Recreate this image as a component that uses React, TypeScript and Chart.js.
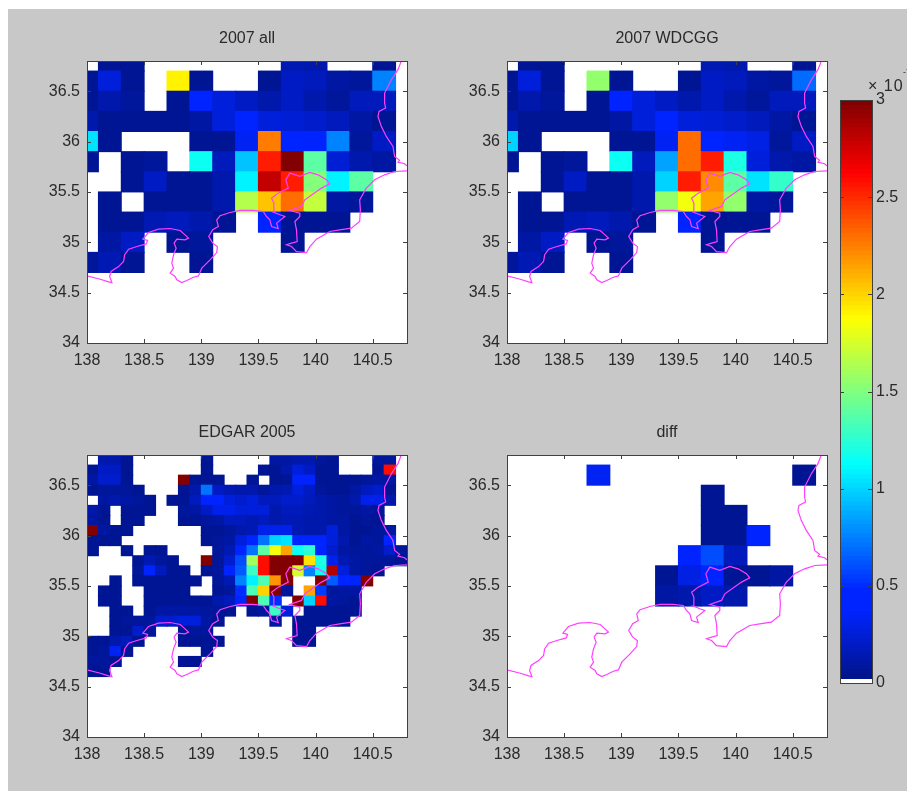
import React, { useEffect, useRef } from "react";
import { Chart, registerables } from "chart.js";

Chart.register(...registerables);

const _ = null;

const coarseLons = [138.0, 138.2, 138.4, 138.6, 138.8, 139.0, 139.2, 139.4, 139.6, 139.8, 140.0, 140.2, 140.4, 140.6];
const coarseLats = [36.8, 36.6, 36.4, 36.2, 36.0, 35.8, 35.6, 35.4, 35.2, 35.0, 34.8];
const fineLons = [138.05, 138.15, 138.25, 138.35, 138.45, 138.55, 138.65, 138.75, 138.85, 138.95, 139.05, 139.15, 139.25, 139.35, 139.45, 139.55, 139.65, 139.75, 139.85, 139.95, 140.05, 140.15, 140.25, 140.35, 140.45, 140.55, 140.65, 140.75];
const fineLats = [36.75, 36.65, 36.55, 36.45, 36.35, 36.25, 36.15, 36.05, 35.95, 35.85, 35.75, 35.65, 35.55, 35.45, 35.35, 35.25, 35.15, 35.05, 34.95, 34.85, 34.75, 34.65];

const all2007 = [
  [_, .07, .07, _, _, _, _, _, _, .15, .12, _, _, .07],
  [.06, .28, .06, _, 1.9, .05, _, _, .06, .2, .18, .1, .08, .75],
  [.06, .12, .08, _, .06, .45, .28, .2, .12, .2, .13, .08, .18, .18],
  [.14, .06, .06, .06, .06, .1, .28, .38, .26, .24, .22, .18, .1, .07],
  [1.05, .06, _, _, _, .06, .07, .33, 2.25, .47, .38, .75, .08, .2],
  [.05, _, .07, .09, _, 1.15, .18, .95, 2.55, 3, 1.4, .24, .13, .1],
  [_, _, .07, .2, .06, .06, .13, 1.1, 2.8, 2.55, 1.5, 1.1, 1.4, _],
  [_, .06, _, .06, .06, .06, .13, 1.65, 2.05, 2.3, 1.7, .1, .09, _],
  [_, .06, .06, .15, .17, .13, .07, _, .4, .06, .06, .06, _, _],
  [_, .1, .2, _, .06, .09, _, _, _, .06, _, _, _, _],
  [.09, .15, .06, _, _, .06, _, _, _, _, _, _, _, _],
];

const wdcgg2007 = [
  [_, .07, .07, _, _, _, _, _, _, .15, .12, _, _, .07],
  [.06, .28, .06, _, 1.55, .05, _, _, .06, .2, .18, .1, .08, .7],
  [.06, .12, .08, _, .06, .45, .28, .2, .12, .2, .13, .08, .18, .18],
  [.14, .06, .06, .06, .06, .1, .28, .38, .26, .24, .22, .18, .1, .07],
  [1.0, .06, _, _, _, .06, .07, .33, 2.3, .45, .35, .3, .08, .2],
  [.05, _, .07, .09, _, 1.17, .18, .85, 2.3, 2.55, 1.2, .28, .13, .1],
  [_, _, .07, .2, .06, .06, .13, 1.0, 2.55, 2.22, 1.4, 1.05, 1.28, _],
  [_, .06, _, .06, .06, .06, .13, 1.55, 1.85, 2.15, 1.55, .1, .09, _],
  [_, .06, .06, .15, .17, .13, .07, _, .4, .06, .06, .06, _, _],
  [_, .1, .2, _, .06, .09, _, _, _, .06, _, _, _, _],
  [.09, .15, .06, _, _, .06, _, _, _, _, _, _, _, _],
];

const edgar2005 = [
  [_, .12, .12, .07, _, _, _, _, _, _, .07, _, _, _, _, _, .1, .1, .12, .12, .08, .07, _, _, _, .08, .08, _],
  [.07, .2, .2, .07, _, _, _, _, _, _, .06, _, _, _, _, .06, .06, .12, .28, .2, .07, .07, _, _, _, .07, 2.6, _],
  [.1, .22, .22, .07, _, _, _, _, 3, .06, .06, .06, _, _, .06, _, .06, .06, .42, .42, .07, .06, .06, .06, .08, .1, .1, _],
  [.06, .09, .09, .09, .06, _, _, _, .06, .12, .72, .2, .16, .12, .14, .09, .12, .16, .26, .2, .09, .07, .07, .1, .18, .22, .07, _],
  [_, .1, .14, .1, .08, .06, _, .06, .06, .18, .45, .48, .26, .22, .26, .18, .18, .22, .22, .18, .13, .1, .08, .14, .32, .32, .12, _],
  [.14, .06, _, .06, .06, .06, _, _, .08, .1, .2, .32, .32, .26, .26, .28, .13, .18, .18, .16, .13, .1, .08, .08, .1, .08, _, _],
  [.1, .06, _, .06, .06, _, _, _, .06, .06, .08, .1, .18, .18, .16, .18, .14, .16, .16, .13, .13, .1, .1, .07, .08, .07, _, _],
  [3, .1, .06, .06, _, _, _, _, _, _, .06, .06, .08, .14, .16, .32, .32, .32, .16, .14, .12, .26, .1, .07, .07, .08, .1, _],
  [.06, .06, .06, _, _, _, _, _, _, _, .06, .08, .1, .28, .47, .72, 1.0, 1.05, .38, .38, .38, .26, .13, .07, .1, .08, .47, _],
  [.06, _, _, .06, _, .06, .06, _, _, _, _, .08, .16, .43, .72, 1.4, 1.85, 2.15, 1.15, 1.25, .43, .22, .1, .08, .08, .1, .22, .08],
  [_, _, _, _, .06, .16, .08, .06, _, _, 3, .08, .22, .6, 1.6, 2.6, 3, 3, 3, 1.95, 1.2, .32, .15, .1, .08, .08, .08, .07],
  [_, _, _, _, .08, .43, .18, .06, .06, _, .06, .08, .38, .65, 1.3, 2.6, 3, 3, 1.75, .75, 1.15, 2.85, .28, .1, .08, .07, _, _],
  [_, _, .06, _, .06, .06, .06, .06, .06, .06, _, .08, .16, .75, 1.1, 1.35, 2.2, 3, _, _, 3, .65, .43, .43, 3, _, _, _],
  [_, .06, .06, _, _, .06, .06, .06, .06, _, _, .06, .08, .5, 1.35, 2.0, 3, .08, _, 2.15, .55, .08, .1, .1, _, _, _, _],
  [_, .06, .06, _, _, .06, .06, .06, .06, .06, .06, .14, .18, .43, 3, 1.35, .5, _, 3, 1.0, 2.6, .1, .08, .06, _, _, _, _],
  [_, _, .06, .06, _, .06, .1, .1, .1, .1, .08, .08, .06, _, .06, .08, 1.3, .28, _, .06, .06, .06, .06, .06, _, _, _, _],
  [_, _, .06, .08, .08, .08, .22, .22, .28, .28, .1, .06, _, _, _, _, .1, _, .06, .06, .06, .06, .06, _, _, _, _, _],
  [_, _, .06, .06, .22, .08, _, _, .06, .09, .09, _, _, _, _, _, _, _, .06, .06, _, _, _, _, _, _, _, _],
  [.06, .06, .13, .18, .06, _, _, _, .06, .06, .06, .06, _, _, _, _, _, _, .06, .06, _, _, _, _, _, _, _, _],
  [.07, .08, .33, .06, _, _, _, _, _, _, .06, _, _, _, _, _, _, _, _, _, _, _, _, _, _, _, _, _],
  [.09, .09, .06, _, _, _, _, _, .06, .06, _, _, _, _, _, _, _, _, _, _, _, _, _, _, _, _, _, _],
  [.06, .06, _, _, _, _, _, _, _, _, _, _, _, _, _, _, _, _, _, _, _, _, _, _, _, _, _, _],
];

const diff = [
  [_, _, _, _, _, _, _, _, _, _, _, _, _, _],
  [_, _, _, _, .35, _, _, _, _, _, _, _, _, .06],
  [_, _, _, _, _, _, _, _, _, .06, _, _, _, _],
  [_, _, _, _, _, _, _, _, _, .06, .06, _, _, _],
  [_, _, _, _, _, _, _, _, _, .06, .06, .45, _, _],
  [_, _, _, _, _, _, _, _, .45, .6, .18, _, _, _],
  [_, _, _, _, _, _, _, .05, .3, .42, .07, .06, .1, _],
  [_, _, _, _, _, _, _, .1, .13, .2, .13, _, _, _],
  [_, _, _, _, _, _, _, _, _, _, _, _, _, _],
  [_, _, _, _, _, _, _, _, _, _, _, _, _, _],
  [_, _, _, _, _, _, _, _, _, _, _, _, _, _],
];

const southCoastLon = [138.0, 138.116, 138.189, 138.218, 138.198, 138.21, 138.276, 138.32, 138.329, 138.364, 138.437, 138.518, 138.53, 138.489, 138.538, 138.626, 138.728, 138.815, 138.858, 138.888, 138.858, 138.786, 138.762, 138.78, 138.757, 138.742, 138.757, 138.728, 138.771, 138.786, 138.829, 138.873, 138.931, 138.975, 139.004, 139.077, 139.135, 139.141, 139.1, 139.083, 139.065, 139.1, 139.149, 139.135, 139.164, 139.251, 139.339, 139.455, 139.542, 139.571, 139.6, 139.615, 139.673, 139.659, 139.731, 139.688, 139.63, 139.635, 139.615, 139.673, 139.761, 139.74, 139.775, 139.862, 139.95, 140.022, 140.095, 140.124, 140.052, 139.906, 139.877, 139.775, 139.862, 139.862, 139.819, 139.833, 139.839, 139.79, 139.746, 139.79, 139.833, 139.921, 139.95, 140.008, 140.124, 140.212, 140.313, 140.386, 140.392, 140.386, 140.444, 140.517, 140.604, 140.692, 140.8];
const southCoastLat = [34.666, 34.633, 34.607, 34.6, 34.66, 34.71, 34.759, 34.809, 34.875, 34.931, 34.958, 34.984, 35.018, 35.031, 35.097, 35.13, 35.137, 35.117, 35.074, 35.041, 35.024, 35.031, 34.991, 34.941, 34.875, 34.792, 34.743, 34.693, 34.66, 34.627, 34.6, 34.62, 34.653, 34.666, 34.743, 34.825, 34.898, 34.958, 34.991, 35.024, 35.057, 35.124, 35.157, 35.223, 35.263, 35.296, 35.316, 35.316, 35.306, 35.256, 35.223, 35.157, 35.137, 35.19, 35.256, 35.273, 35.299, 35.389, 35.438, 35.488, 35.538, 35.621, 35.687, 35.654, 35.693, 35.67, 35.621, 35.581, 35.538, 35.422, 35.356, 35.316, 35.289, 35.256, 35.206, 35.124, 35.008, 34.991, 34.975, 34.958, 34.908, 34.898, 34.958, 35.031, 35.107, 35.124, 35.14, 35.206, 35.322, 35.422, 35.538, 35.621, 35.67, 35.703, 35.71];
const eastCoastLon = [140.75, 140.721, 140.663, 140.604, 140.604, 140.613, 140.555, 140.546, 140.575, 140.619, 140.677, 140.692, 140.735, 140.721, 140.779, 140.8];
const eastCoastLat = [36.8, 36.714, 36.614, 36.482, 36.383, 36.333, 36.3, 36.25, 36.151, 36.051, 35.952, 35.852, 35.813, 35.796, 35.78, 35.76];

const xTicks = [138, 138.5, 139, 139.5, 140, 140.5];
const yTicks = [34, 34.5, 35, 35.5, 36, 36.5];
const colorbarTicks = [0, 0.5, 1, 1.5, 2, 2.5, 3];

const FONT = "'Liberation Sans', Arial, sans-serif";
const TEXT = "#2a2a2a";
const FRAME = "#404040";
const LEVELS = 128;
const VMAX = 3;

const clamp = (v: number) => Math.max(0, Math.min(1, v));
function jet(value: number): string {
  const level = Math.min(LEVELS - 1, Math.floor((value / VMAX) * LEVELS));
  if (level <= 0) return "#ffffff";
  const t = (level + 0.5) / LEVELS;
  const r = clamp(Math.min(4 * t - 1.5, -4 * t + 4.5));
  let g = clamp(Math.min(4 * t - 0.5, -4 * t + 3.5));
  const b = clamp(Math.min(4 * t + 0.5, -4 * t + 2.5));
  if (r === 0) g = Math.max(g, 0.14 * b);
  return `rgb(${Math.round(r * 255)},${Math.round(g * 255)},${Math.round(b * 255)})`;
}

const whiteAreaPlugin = {
  id: "whiteArea",
  beforeDraw(chart: any) {
    const { ctx, chartArea: a } = chart;
    ctx.save();
    ctx.fillStyle = "#ffffff";
    ctx.fillRect(a.left, a.top, a.right - a.left, a.bottom - a.top);
    ctx.restore();
  },
};

const framePlugin = {
  id: "matlabFrame",
  afterDraw(chart: any) {
    const { ctx, chartArea: a, scales } = chart;
    const len = 4;
    ctx.save();
    ctx.strokeStyle = FRAME;
    ctx.lineWidth = 1;
    ctx.beginPath();
    const xs = scales.x;
    const ys = scales.y;
    if (chart.options.plugins.matlabFrame?.xTicks !== false) {
      xs.ticks.forEach((_t: any, i: number) => {
        const p = Math.round(xs.getPixelForTick(i)) + 0.5;
        ctx.moveTo(p, a.top);
        ctx.lineTo(p, a.top + len);
        ctx.moveTo(p, a.bottom);
        ctx.lineTo(p, a.bottom - len);
      });
    }
    ys.ticks.forEach((_t: any, i: number) => {
      const p = Math.round(ys.getPixelForTick(i)) + 0.5;
      ctx.moveTo(a.left, p);
      ctx.lineTo(a.left + len, p);
      ctx.moveTo(a.right, p);
      ctx.lineTo(a.right - len, p);
    });
    ctx.stroke();
    ctx.strokeRect(Math.round(a.left) + 0.5, Math.round(a.top) + 0.5, Math.round(a.right - a.left), Math.round(a.bottom - a.top));
    ctx.restore();
  },
};

type Panel = {
  title: string;
  grid: (number | null)[][];
  lons: number[];
  lats: number[];
  half: number;
  left: number;
  top: number;
};

const AX_W = 320;
const AX_H = 282;
const PAD_L = 50;
const PAD_T = 40;
const PAD_B = 35;
const OFF_X = 8;
const OFF_Y = 9;
const SOFTEN = "blur(0.4px)";

const panels: Panel[] = [
  { title: "2007 all", grid: all2007, lons: coarseLons, lats: coarseLats, half: 0.1, left: 87, top: 61 },
  { title: "2007 WDCGG", grid: wdcgg2007, lons: coarseLons, lats: coarseLats, half: 0.1, left: 507, top: 61 },
  { title: "EDGAR 2005", grid: edgar2005, lons: fineLons, lats: fineLats, half: 0.05, left: 87, top: 455 },
  { title: "diff", grid: diff, lons: coarseLons, lats: coarseLats, half: 0.1, left: 507, top: 455 },
];

function makePanel(canvas: HTMLCanvasElement, p: Panel) {
  const cells: any[] = [];
  const colors: string[] = [];
  p.grid.forEach((row, r) =>
    row.forEach((v, c) => {
      if (v === null) return;
      cells.push({ x: p.lons[c], y: [p.lats[r] - p.half, p.lats[r] + p.half] });
      colors.push(jet(v));
    })
  );
  const coastStyle = { type: "scatter", showLine: true, pointRadius: 0, borderColor: "#ff40ff", borderWidth: 1.2, tension: 0, order: 0, fill: false };
  return new Chart(canvas, {
    type: "bar",
    data: {
      datasets: [
        { ...coastStyle, data: southCoastLon.map((x, i) => ({ x, y: southCoastLat[i] })) },
        { ...coastStyle, data: eastCoastLon.map((x, i) => ({ x, y: eastCoastLat[i] })) },
        { type: "bar", data: cells, backgroundColor: colors, barPercentage: 1, categoryPercentage: 1, inflateAmount: 0.5, order: 1 },
      ],
    } as any,
    options: {
      responsive: false,
      animation: false,
      events: [],
      layout: { padding: { right: PAD_L, left: 0, top: 0, bottom: 0 } },
      plugins: {
        legend: { display: false },
        tooltip: { enabled: false },
        title: {
          display: true,
          fullSize: false,
          text: p.title,
          color: TEXT,
          font: { family: FONT, size: 16, weight: "normal", lineHeight: 1 },
          padding: { top: 10, bottom: 14 },
        },
      },
      scales: {
        x: {
          type: "linear",
          min: 138,
          max: 140.8,
          offset: false,
          grid: { display: false, drawTicks: false, offset: false },
          border: { display: false },
          afterBuildTicks: (s: any) => { s.ticks = xTicks.map((value) => ({ value })); },
          afterFit: (s: any) => { s.height = PAD_B; },
          ticks: { padding: 8, autoSkip: false, maxRotation: 0, color: TEXT, font: { family: FONT, size: 16 }, callback: (v: any) => String(v) },
        },
        y: {
          type: "linear",
          min: 34,
          max: 36.8,
          grid: { display: false, drawTicks: false },
          border: { display: false },
          afterBuildTicks: (s: any) => { s.ticks = yTicks.map((value) => ({ value })); },
          afterFit: (s: any) => { s.width = PAD_L; },
          ticks: { padding: 7, color: TEXT, font: { family: FONT, size: 16 }, callback: (v: any) => String(v) },
        },
      },
    } as any,
    plugins: [whiteAreaPlugin, framePlugin],
  });
}

const barEdges = Array.from({ length: LEVELS + 1 }, (_v, i) => (i * VMAX) / LEVELS);

function makeColorbar(canvas: HTMLCanvasElement) {
  const levels = barEdges.slice(0, -1);
  return new Chart(canvas, {
    type: "bar",
    data: {
      datasets: [
        {
          data: levels.map((lo, i) => ({ x: 0.5, y: [lo, barEdges[i + 1]] })),
          backgroundColor: levels.map((lo) => jet(lo + 0.001)),
          barThickness: 33,
          inflateAmount: 0.5,
        },
      ],
    } as any,
    options: {
      responsive: false,
      animation: false,
      events: [],
      layout: { padding: { left: 10, right: 0, top: 40, bottom: 17 } },
      plugins: { legend: { display: false }, tooltip: { enabled: false }, matlabFrame: { xTicks: false } },
      scales: {
        x: { type: "linear", min: 0, max: 1, offset: false, display: false, grid: { display: false } },
        y: {
          type: "linear",
          position: "right",
          min: 0,
          max: 3,
          grid: { display: false, drawTicks: false },
          border: { display: false },
          afterBuildTicks: (s: any) => { s.ticks = colorbarTicks.map((value) => ({ value })); },
          afterFit: (s: any) => { s.width = 35; },
          ticks: { padding: 4, color: TEXT, font: { family: FONT, size: 16 }, callback: (v: any) => String(v) },
        },
      },
    } as any,
    plugins: [whiteAreaPlugin, framePlugin],
  });
}

const absText: React.CSSProperties = { position: "absolute", fontFamily: FONT, color: TEXT, lineHeight: 1, whiteSpace: "nowrap", filter: SOFTEN };

export default function App() {
  const refs = useRef<(HTMLCanvasElement | null)[]>([]);
  const barRef = useRef<HTMLCanvasElement | null>(null);
  useEffect(() => {
    const charts = panels.map((p, i) => makePanel(refs.current[i] as HTMLCanvasElement, p));
    charts.push(makeColorbar(barRef.current as HTMLCanvasElement));
    return () => charts.forEach((c) => c.destroy());
  }, []);
  return (
    <div style={{ position: "absolute", left: OFF_X, top: OFF_Y, width: 899, height: 782, background: "#c8c8c8", overflow: "hidden" }}>
      {panels.map((p, i) => (
        <canvas
          key={p.title}
          ref={(el) => { refs.current[i] = el; }}
          width={AX_W + PAD_L * 2}
          height={AX_H + PAD_T + PAD_B}
          style={{ position: "absolute", display: "block", left: p.left - PAD_L - OFF_X, top: p.top - PAD_T - OFF_Y, filter: SOFTEN }}
        />
      ))}
      <canvas
        ref={barRef}
        width={77}
        height={640}
        style={{ position: "absolute", display: "block", left: 830 - OFF_X, top: 60 - OFF_Y, filter: SOFTEN }}
      />
      <span style={{ ...absText, fontSize: 16, left: 868 - OFF_X, top: 78 - OFF_Y, letterSpacing: 1 }}>× 10</span>
      <span style={{ ...absText, fontSize: 9, left: 903 - OFF_X, top: 68 - OFF_Y }}>-7</span>
    </div>
  );
}
